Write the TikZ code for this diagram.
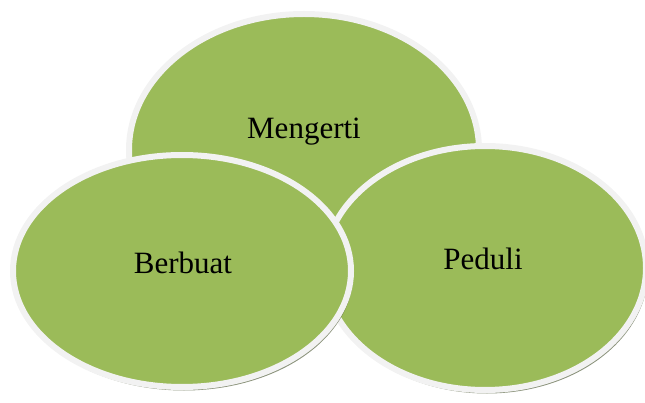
\documentclass[tikz,border=0pt]{standalone}
\usepackage{fontspec}
\setmainfont{Liberation Serif}
\usetikzlibrary{shapes.geometric,shadows}
\definecolor{leaf}{HTML}{9BBB59}
\definecolor{rim}{HTML}{F2F2F2}
\tikzset{
  blob/.style={ellipse, fill=leaf, draw=rim, line width=6pt, inner sep=0pt,
    drop shadow={shadow xshift=2pt, shadow yshift=-3.5pt, fill=black!60!leaf, opacity=0.6}},
  word/.style={font=\fontsize{31}{36}\selectfont, text=black}
}
\begin{document}
\begin{tikzpicture}[x=1pt,y=-1pt]
\useasboundingbox (0,0) rectangle (645,403);
\node[blob, minimum width=350pt, minimum height=272pt] (m) at (304,150) {};
\node[blob, minimum width=322pt, minimum height=244pt] (p) at (485,268) {};
\node[blob, minimum width=338pt, minimum height=232pt] (b) at (182,271) {};
\node[word] (mt) at (304,132) {Mengerti};
\node[word] (pt) at (483,259) {Peduli};
\node[word] (bt) at (183,263) {Berbuat};
\end{tikzpicture}
\end{document}
